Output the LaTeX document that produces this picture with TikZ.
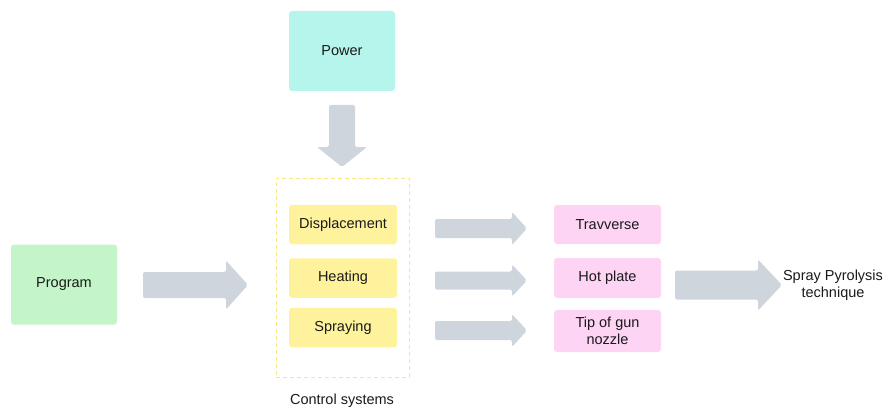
\documentclass[tikz,border=0pt]{standalone}
\usepackage{fontspec}
\setmainfont{Liberation Sans}
\definecolor{powerfill}{HTML}{B5F5EC}
\definecolor{progfill}{HTML}{C3F5C9}
\definecolor{ctrlfill}{HTML}{FEF29C}
\definecolor{outfill}{HTML}{FDD4F4}
\definecolor{dashcol}{HTML}{FCE680}
\definecolor{arrowfill}{HTML}{CFD5DD}
\definecolor{ink}{HTML}{1A1A1A}
\tikzset{
  box/.style={rounded corners=3pt, inner sep=2pt, align=center, text=ink,
    font=\fontsize{14.5}{17.5}\selectfont},
  powerbox/.style={box, fill=powerfill, minimum width=106pt, minimum height=80pt},
  progbox/.style={box, fill=progfill, minimum width=106pt, minimum height=80pt},
  ctrlbox/.style={box, fill=ctrlfill, minimum width=108pt, minimum height=39.5pt},
  outbox/.style={box, fill=outfill, minimum width=107pt},
  group/.style={draw=dashcol, dashed, dash pattern=on 4pt off 3pt, line width=0.8pt,
    minimum width=133pt, minimum height=199pt, inner sep=0pt},
  label/.style={text=ink, align=center, font=\fontsize{14.5}{17}\selectfont},
  blockarrow/.style={fill=arrowfill, rounded corners=2pt}
}
% horizontal block arrow: start x, tip x, head-base x, centre y, shaft half, head half
\newcommand{\harrow}[6]{%
  \fill[blockarrow] (#1,#4-#5) -- (#3,#4-#5) -- (#3,#4-#6) -- (#2,#4)
    -- (#3,#4+#6) -- (#3,#4+#5) -- (#1,#4+#5) -- cycle;}
\begin{document}
\begin{tikzpicture}[x=1pt, y=-1pt]
\useasboundingbox (0,0) rectangle (885,409);

% sources
\node[powerbox] (power) at (342,51) {Power};
\node[progbox] (program) at (64,284.5) {Program};

% control systems
\node[group] (ctrl) at (342.5,277.5) {};
\node[ctrlbox] (disp) at (343,224.5) {Displacement};
\node[ctrlbox] (heat) at (343,278) {Heating};
\node[ctrlbox] (spray) at (343,327.5) {Spraying};
\node[label] (ctrllabel) at (342,401) {Control systems};

% controlled parts
\node[outbox, minimum height=39pt] (trav) at (607.5,224.5) {Travverse};
\node[outbox, minimum height=40pt] (plate) at (607.5,278) {Hot plate};
\node[outbox, minimum height=42pt, inner sep=1pt] (tip) at (607.5,331)
  {Tip of gun\\nozzle};

% result
\node[label] (result) at (833,285) {Spray Pyrolysis\\technique};

% down arrow from power into control systems
\fill[blockarrow] (329,105) -- (355,105) -- (355,147) -- (367,147) -- (342,167)
  -- (317,147) -- (329,147) -- cycle;

% block arrows
\harrow{143}{248}{226}{285}{13}{24.5}
\harrow{435}{527}{512}{228.5}{9.5}{16.5}
\harrow{435}{527}{512}{280.5}{9}{16}
\harrow{435}{527}{512}{330.5}{9.5}{16.5}
\harrow{675}{782}{758}{285}{14.5}{25.5}
\end{tikzpicture}
\end{document}
